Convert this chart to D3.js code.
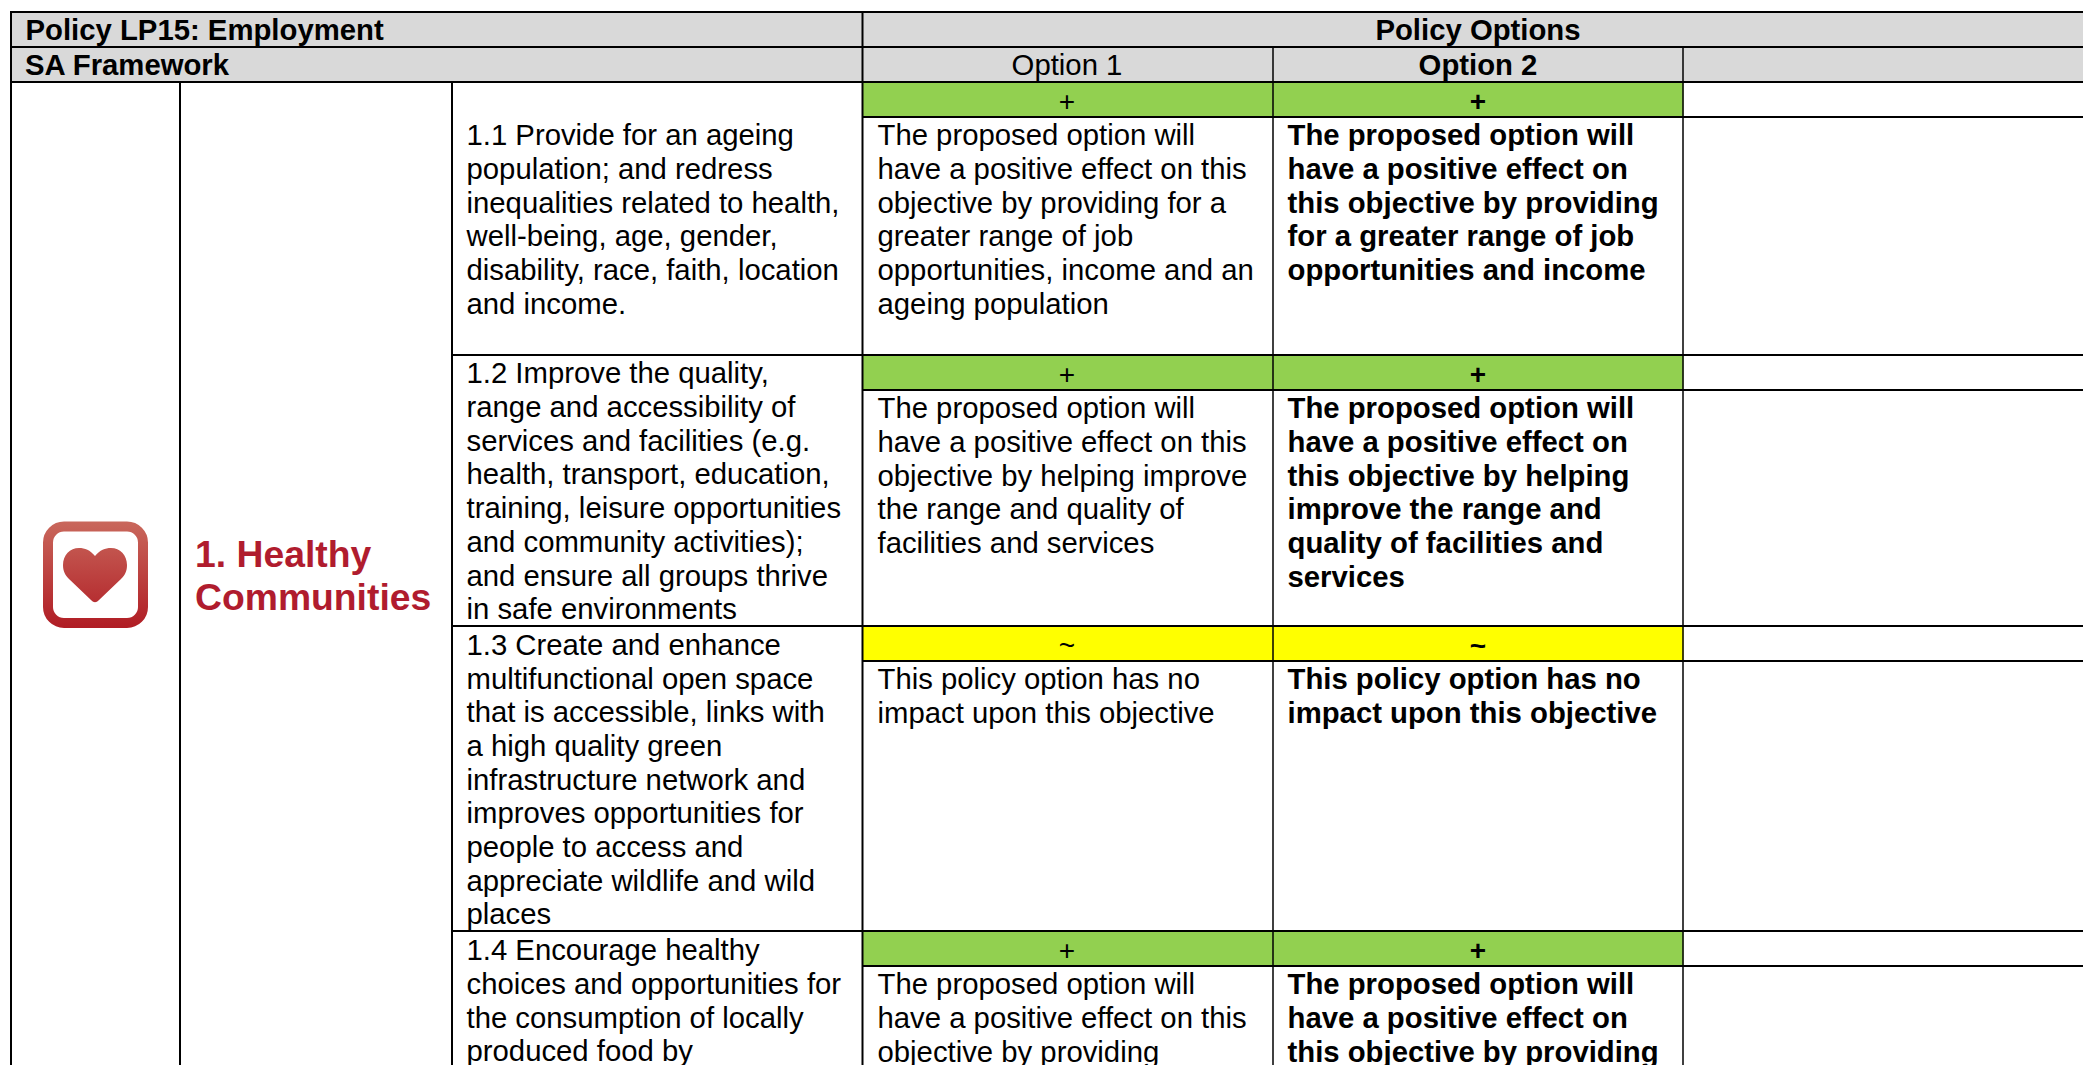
<!DOCTYPE html>
<html>
<head>
  <meta charset="utf-8">
  <script src="https://d3js.org/d3.v7.min.js"></script>
  <style>
    html, body { margin: 0; padding: 0; background: #fff; }
    svg { display: block; }
    text { font-family: "Liberation Sans", Arial, sans-serif; fill: #000; }
  </style>
</head>
<body>
<script>
// table content
var title = "Policy LP15: Employment";
var framework = "SA Framework";
var optionsTitle = "Policy Options";
var optionNames = ["Option 1", "Option 2"];
var groupLines = ["1. Healthy", "Communities"];

var objectives = [
  ["1.1 Provide for an ageing", "population; and redress", "inequalities related to health,", "well-being, age, gender,", "disability, race, faith, location", "and income."],
  ["1.2 Improve the quality,", "range and accessibility of", "services and facilities (e.g.", "health, transport, education,", "training, leisure opportunities", "and community activities);", "and ensure all groups thrive", "in safe environments"],
  ["1.3 Create and enhance", "multifunctional open space", "that is accessible, links with", "a high quality green", "infrastructure network and", "improves opportunities for", "people to access and", "appreciate wildlife and wild", "places"],
  ["1.4 Encourage healthy", "choices and opportunities for", "the consumption of locally", "produced food by"]
];
var scores = ["+", "+", "~", "+"];
var option1 = [
  ["The proposed option will", "have a positive effect on this", "objective by providing for a", "greater range of job", "opportunities, income and an", "ageing population"],
  ["The proposed option will", "have a positive effect on this", "objective by helping improve", "the range and quality of", "facilities and services"],
  ["This policy option has no", "impact upon this objective"],
  ["The proposed option will", "have a positive effect on this", "objective by providing"]
];
var option2 = [
  ["The proposed option will", "have a positive effect on", "this objective by providing", "for a greater range of job", "opportunities and income"],
  ["The proposed option will", "have a positive effect on", "this objective by helping", "improve the range and", "quality of facilities and", "services"],
  ["This policy option has no", "impact upon this objective"],
  ["The proposed option will", "have a positive effect on", "this objective by providing"]
];

// layout
var width = 2083, height = 1065;
var lineH = 33.7, fontSize = 29.3;
var xs = { left: 11, icon: 180, group: 452, opt1: 862.5, opt2: 1273, opt3: 1683, right: 2083 };
var rowTop = [82, 355, 626, 931];
var scoreH = 35;
var objY = [117, 355, 626.5, 932];
var scoreColor = d3.scaleOrdinal(["+", "~"], ["#92d050", "#ffff00"]);

var svg = d3.select("body").append("svg")
  .attr("width", width).attr("height", height);

// grey header
svg.append("rect").attr("x", xs.left).attr("y", 12)
  .attr("width", width - xs.left).attr("height", 70).attr("fill", "#d9d9d9");

// score bars
[xs.opt1, xs.opt2].forEach(function (x) {
  svg.selectAll(null).data(scores).enter().append("rect")
    .attr("x", x)
    .attr("y", function (d, i) { return rowTop[i]; })
    .attr("width", xs.opt2 - xs.opt1)
    .attr("height", scoreH)
    .attr("fill", function (d) { return scoreColor(d); });
});

function hline(x1, x2, y, w) {
  svg.append("line").attr("x1", x1).attr("x2", x2).attr("y1", y).attr("y2", y)
    .attr("stroke", "#000").attr("stroke-width", w);
}
function vline(x, y1, y2, w) {
  svg.append("line").attr("x1", x).attr("x2", x).attr("y1", y1).attr("y2", y2)
    .attr("stroke", "#000").attr("stroke-width", w);
}

hline(xs.left - 1, width, 12, 2);
hline(xs.left - 1, width, 47, 2);
hline(xs.left - 1, width, 82, 2);
rowTop.slice(1).forEach(function (y) { hline(xs.group, width, y, 2); });
rowTop.forEach(function (y) { hline(xs.opt1, width, y + scoreH, 2); });

vline(xs.left, 12, height, 2);
vline(xs.icon, 82, height, 2);
vline(xs.group, 82, height, 2);
vline(xs.opt1, 12, height, 2);
vline(xs.opt2, 47, height, 1.5);
vline(xs.opt3, 47, height, 1.5);

function block(lines, x, top, weight) {
  svg.append("g").selectAll("text").data(lines).enter().append("text")
    .attr("x", x)
    .attr("y", function (d, i) { return top + 28.3 + i * lineH; })
    .attr("font-size", fontSize)
    .attr("font-weight", weight)
    .text(function (d) { return d; });
}

// header text
block([title], 25.5, 11.5, "bold");
block([framework], 25, 47, "bold");
svg.append("text").attr("x", 1478).attr("y", 39.5).attr("text-anchor", "middle")
  .attr("font-size", fontSize).attr("font-weight", "bold").text(optionsTitle);
optionNames.forEach(function (name, i) {
  svg.append("text").attr("x", i ? 1478 : 1067).attr("y", 74.5).attr("text-anchor", "middle")
    .attr("font-size", fontSize).attr("font-weight", i ? "bold" : "normal").text(name);
});

// objective and option cells
objectives.forEach(function (lines, i) { block(lines, 466.5, objY[i], "normal"); });
option1.forEach(function (lines, i) { block(lines, 877.5, rowTop[i] + scoreH, "normal"); });
option2.forEach(function (lines, i) { block(lines, 1287.5, rowTop[i] + scoreH, "bold"); });

scores.forEach(function (s, i) {
  [[1067, "normal"], [1478, "bold"]].forEach(function (c) {
    svg.append("text").attr("x", c[0]).attr("y", rowTop[i] + 29).attr("text-anchor", "middle")
      .attr("font-size", 28).attr("font-weight", c[1]).text(s);
  });
});

// group name
groupLines.forEach(function (t, i) {
  svg.append("text").attr("x", 195).attr("y", 567 + i * 43)
    .attr("font-size", 37.3).attr("font-weight", "bold").style("fill", "#b01c2e").text(t);
});

// heart icon
var grad = svg.append("defs").append("linearGradient").attr("id", "iconGrad")
  .attr("gradientUnits", "userSpaceOnUse")
  .attr("x1", 0).attr("x2", 0).attr("y1", 521).attr("y2", 628);
grad.append("stop").attr("offset", 0).attr("stop-color", "#c9685c");
grad.append("stop").attr("offset", 1).attr("stop-color", "#b01c24");

svg.append("rect").attr("x", 48).attr("y", 526.5).attr("width", 95).attr("height", 96.5)
  .attr("rx", 16).attr("fill", "none").attr("stroke", "url(#iconGrad)").attr("stroke-width", 10);
svg.append("path")
  .attr("d", "M95 556C90 550 85 548 79 548C70 548 63 555 63 565C63 571 65 575 69 579L91 600C94 603 96 603 99 600L121 579C125 575 127 571 127 565C127 555 120 548 111 548C105 548 100 550 95 556Z")
  .attr("fill", "url(#iconGrad)");
</script>
</body>
</html>
